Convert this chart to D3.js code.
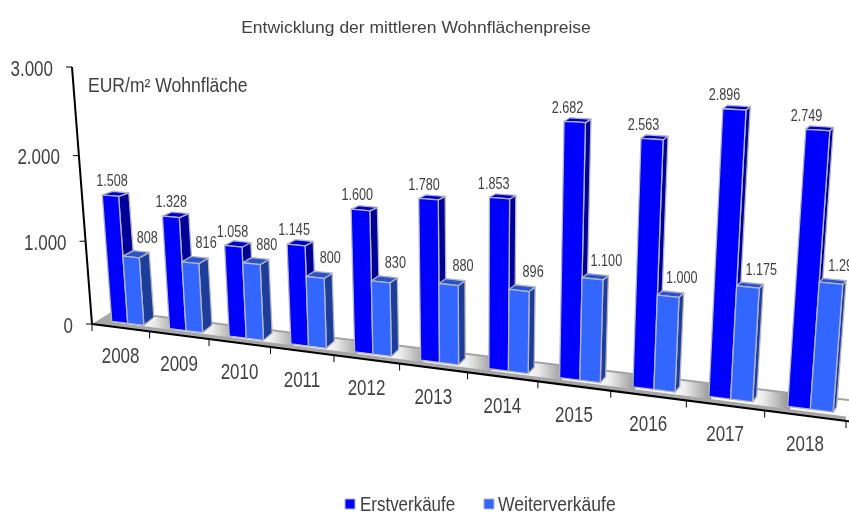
<!DOCTYPE html>
<html><head><meta charset="utf-8">
<script src="https://cdn.jsdelivr.net/npm/d3@7"></script>
<style>html,body{margin:0;padding:0;background:#fff;overflow:hidden}svg{display:block}text{font-family:"Liberation Sans",Arial,sans-serif;fill:#404040}</style>
</head><body><svg id="c" width="849" height="512"></svg>
<script>
const years = ["2008","2009","2010","2011","2012","2013","2014","2015","2016","2017","2018"];
const erstverkaeufe = [1508,1328,1058,1145,1600,1780,1853,2682,2563,2896,2749];
const weiterverkaeufe = [808,816,880,800,830,880,896,1100,1000,1175,1294];
const seriesNames = ["Erstverkäufe","Weiterverkäufe"];
const yTicks = [0,1000,2000,3000];
const titleText = "Entwicklung der mittleren Wohnflächenpreise";
const unitText = "EUR/m² Wohnfläche";
const palette = {
  "Erstverkäufe":  {front:"#0000ff", side:"#000099", top:"#0000cc"},
  "Weiterverkäufe":{front:"#3366ff", side:"#1f3d99", top:"#2952cc"}
};

const svg = d3.select("#c");
const defs = svg.append("defs");
defs.append("filter").attr("id","soft")
  .attr("filterUnits","userSpaceOnUse").attr("x",0).attr("y",0).attr("width",849).attr("height",512)
  .append("feGaussianBlur").attr("stdDeviation",0.35);
const shade = defs.append("linearGradient").attr("id","shade");
[[0,"#ffffff"],[0.3,"#ebebeb"],[1,"#858585"]].forEach(([o,c])=>shade.append("stop").attr("offset",o).attr("stop-color",c));
const root = svg.append("g").attr("filter","url(#soft)");

// Perspective plane: unit square -> wall quad of the chart
const quad = [[92,324],[846,421],[870,113],[72,67]];
const homography = (q=>{
  const [[x0,y0],[x1,y1],[x2,y2],[x3,y3]] = q;
  const sx=x0-x1+x2-x3, sy=y0-y1+y2-y3, dx1=x1-x2, dx2=x3-x2, dy1=y1-y2, dy2=y3-y2;
  const den=dx1*dy2-dx2*dy1, g=(sx*dy2-dx2*sy)/den, h=(dx1*sy-sx*dy1)/den;
  const a=x1-x0+g*x1,b=x3-x0+h*x3,d=y1-y0+g*y1,e=y3-y0+h*y3;
  return (u,v)=>{const w=g*u+h*v+1;return [(a*u+b*v+x0)/w,(d*u+e*v+y0)/w];};
})(quad);

const x0 = d3.scaleBand().domain(years).range([0,1]);
const x1 = d3.scaleBand().domain(seriesNames).range([0.26,0.82]);
const y = d3.scaleLinear().domain([0,3000]).range([0,1]);
const fmt = d3.formatLocale({decimal:",",thousands:".",grouping:[3],currency:["","€"]}).format(",");

const floorDx = d3.scaleLinear().domain([0,1]).range([21,3]);
const floorDy = d3.scaleLinear().domain([0,1]).range([-13,-21]);
const frontDx = d3.scaleLinear().domain([0,1]).range([5,2]);
const frontDy = d3.scaleLinear().domain([0,1]).range([-4.5,-7]);
const sideDx  = d3.scaleLinear().domain([0,1]).range([10.5,3.3]);
const sideDyLow = d3.scaleLinear().domain([0,1]).range([4.7,1.7]);

const front = (u,v)=>{const p=homography(u,v);return [p[0]+frontDx(u),p[1]+frontDy(u)];};
const back = (u,v)=>{const p=front(u,v);return [p[0]+sideDx(u),p[1]-3.5-(1-Math.min(1,2*v))*sideDyLow(u)];};
const floorBack = u=>{const p=homography(u,0);return [p[0]+floorDx(u),p[1]+floorDy(u)];};
const poly = pts=>pts.map(p=>p.map(n=>n.toFixed(2)).join(",")).join(" ");

// Floor
const floor = root.append("g");
const groupU = i=>x0(years[i]);
years.forEach((yr,i)=>{
  const uL = i===0 ? 0 : groupU(i-1)+x0.bandwidth()*x1.range()[1];
  const uR = groupU(i)+x0.bandwidth()*x1.range()[0]+0.004;
  floor.append("polygon").attr("points",poly([homography(uL,0),homography(uR,0),floorBack(uR),floorBack(uL)]))
    .attr("fill", i===0 ? "#a8a8a8" : "url(#shade)");
});
floor.append("polygon").attr("points",poly([homography(0,0),homography(1,0),[homography(1,0)[0],homography(1,0)[1]-4.5],[homography(0,0)[0]+8,homography(0,0)[1]-3.5]]))
  .attr("fill","#a6a6a6");
floor.append("line").attr("x1",floorBack(0)[0]).attr("y1",floorBack(0)[1]).attr("x2",floorBack(1.05)[0]).attr("y2",floorBack(1.05)[1])
  .attr("stroke","#a3a3a3").attr("stroke-width",2);

// Bars
const bars = root.append("g");
const rows = years.flatMap((yr,i)=>[
  {yr,i,s:seriesNames[0],val:erstverkaeufe[i]},
  {yr,i,s:seriesNames[1],val:weiterverkaeufe[i]}
]);
rows.forEach(r=>{
  const uL = x0(r.yr)+x0.bandwidth()*x1(r.s);
  const uR = uL+x0.bandwidth()*x1.bandwidth();
  const v = y(r.val);
  const c = palette[r.s];
  const face = (pts,fill)=>bars.append("polygon").attr("points",poly(pts)).attr("fill",fill)
    .attr("stroke","#b4b6c4").attr("stroke-width",1.3).attr("stroke-linejoin","round");
  face([front(uR,0),back(uR,0),back(uR,v),front(uR,v)],c.side);
  face([front(uL,v),front(uR,v),back(uR,v),back(uL,v)],c.top);
  face([front(uL,0),front(uR,0),front(uR,v),front(uL,v)],c.front);
  r.topLeft=front(uL,v); r.topRight=back(uR,v); r.u=uL;
});

// text helper: horizontally condensed real text
function label(parent,str,x,y,size,sx,anchor){
  return parent.append("text").text(str).attr("transform",`translate(${x},${y}) scale(${sx},1)`)
    .attr("font-size",size).attr("text-anchor",anchor||"middle").attr("dy","0.36em");
}

// Data labels
const labels = root.append("g");
rows.forEach(r=>{
  if(r.s===seriesNames[0]) label(labels,fmt(r.val),r.topLeft[0]+10-10*r.u,r.topLeft[1]-14.5,16,0.79);
  else label(labels,fmt(r.val),r.topRight[0]-2,r.topRight[1]-15.5,16,0.79);
});

// Axes
const axes = root.append("g").attr("stroke","#000").attr("fill","none");
const pY = t=>homography(0,y(t));
axes.append("line").attr("x1",pY(3000)[0]).attr("y1",pY(3000)[1]).attr("x2",pY(0)[0]).attr("y2",pY(0)[1]).attr("stroke-width",2);
axes.append("line").attr("x1",homography(0,0)[0]).attr("y1",homography(0,0)[1]).attr("x2",homography(1.02,0)[0]).attr("y2",homography(1.02,0)[1]).attr("stroke-width",2);
yTicks.forEach(t=>{
  const p=pY(t);
  axes.append("line").attr("x1",p[0]-6).attr("y1",p[1]).attr("x2",p[0]).attr("y2",p[1]);
  label(root,fmt(t),p[0]-19,p[1]+1,21.5,0.79,"end");
});
[0].concat(years.map((d,i)=>(i+1)/years.length)).forEach(u=>{
  const p=homography(u,0);
  axes.append("line").attr("x1",p[0]).attr("y1",p[1]).attr("x2",p[0]).attr("y2",p[1]+7);
});
years.forEach(yr=>{
  const p=homography(x0(yr)+x0.bandwidth()/2,0);
  label(root,yr,p[0],p[1]+28,21.5,0.79);
});

// Title, unit, legend
label(root,titleText,416,27,16.5,1.06);
label(root,unitText,88,85,19.5,0.9,"start");
const legend = root.append("g");
[[345,360,0.87],[484,498,0.9]].forEach(([bx,tx,sx],i)=>{
  legend.append("rect").attr("x",bx).attr("y",499).attr("width",10).attr("height",10)
    .attr("fill",palette[seriesNames[i]].front).attr("stroke","#b4b6c4").attr("stroke-width",1);
  label(legend,seriesNames[i],tx,504,19.5,sx,"start");
});
</script></body></html>
